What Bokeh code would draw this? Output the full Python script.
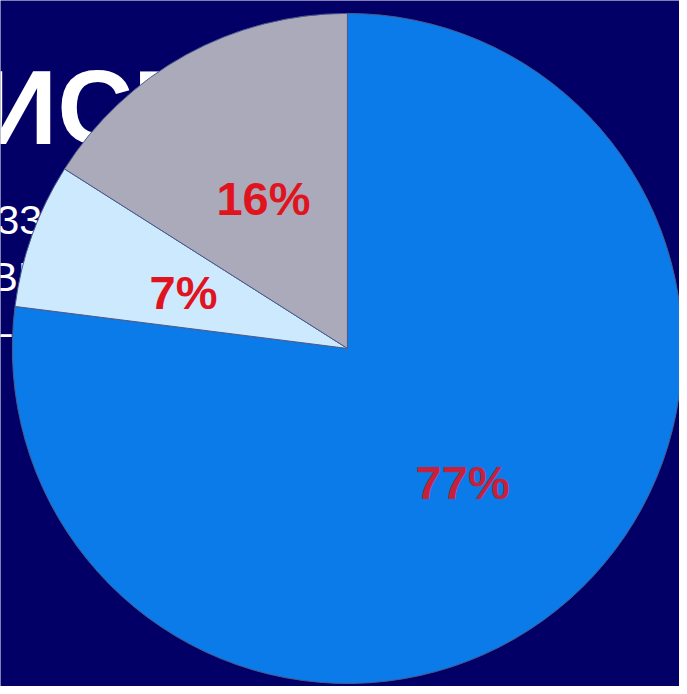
import math
from bokeh.plotting import figure
from bokeh.models import Range1d, ColumnDataSource
from bokeh.core.properties import value
from bokeh.embed import file_html
from bokeh.resources import INLINE

# data
categories = ["A", "B", "C"]
shares = [77, 7, 16]
labels = ["77%", "7%", "16%"]
colors = ["#0A7BE8", "#CDE9FD", "#AAAABA"]
label_colors = ["#C8203A", "#E0141E", "#E0141E"]

W, H = 679, 686
p = figure(width=W, height=H, output_backend="svg", toolbar_location=None,
           x_range=Range1d(0, 687), y_range=Range1d(-694, 0),
           min_border=0, background_fill_color="#020066",
           border_fill_color="#020066", outline_line_color=None)
p.axis.visible = False
p.grid.visible = False

# background slide text (partially hidden behind pie)
p.text(x=[-19], y=[-108], text=["ИСП"], text_font=value("Liberation Sans"),
       text_font_style="bold", text_font_size="105px", text_color="white",
       text_baseline="alphabetic")
p.text(x=[-4, -10, -12], y=[-222, -280, -335], text=["33", "ВН", "–"],
       text_font=value("Liberation Sans"), text_font_size="41px", text_color="white",
       text_baseline="alphabetic")

cx, cy, R = 351, -352, 339
total = sum(shares)
starts, ends, mids = [], [], []
a = math.pi / 2
for s in shares:
    sweep = 2 * math.pi * s / total
    starts.append(a)
    ends.append(a - sweep)
    mids.append(a - sweep / 2)
    a -= sweep

src = ColumnDataSource(dict(start=starts, end=ends, color=colors))
p.wedge(x=cx, y=cy, radius=R, start_angle="start", end_angle="end",
        direction="clock", fill_color="color", line_color="#4A5A8C",
        line_width=1, source=src)

lr = 0.52 * R
lx = [cx + lr * math.cos(m) for m in mids]
ly = [cy + lr * math.sin(m) - 3 for m in mids]
p.text(x=lx, y=ly, text=labels, text_color=label_colors,
       text_font=value("Liberation Sans"), text_font_style="bold",
       text_font_size="47px", text_align="center", text_baseline="middle")

open("out.html", "w").write(file_html(p, INLINE))
